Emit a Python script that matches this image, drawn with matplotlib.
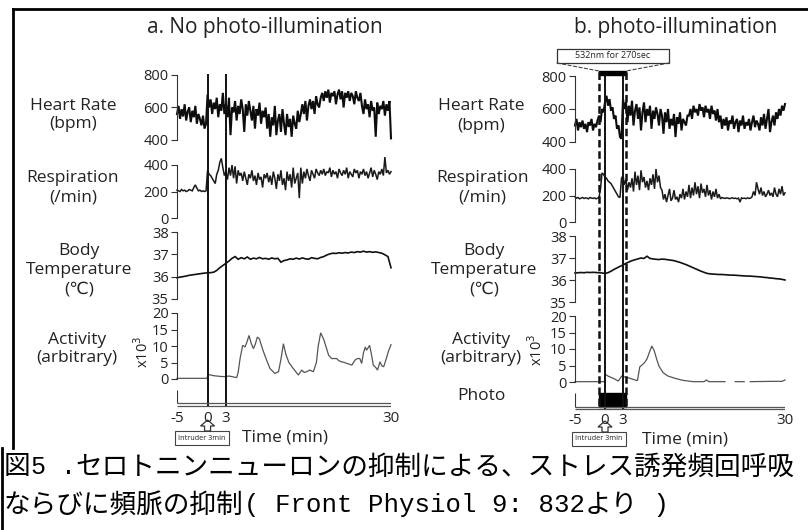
import numpy as np
import matplotlib
matplotlib.use("Agg")
import matplotlib.pyplot as plt
from matplotlib.patches import Rectangle, Polygon, ConnectionPatch

# ---------------- data ----------------
t_range = [-5, 30]
xtick_vals = [-5, 0, 3, 30]
intruder_times = [0, 3]
photo_window = [-1, 3.5]

hr_a = [560, 610, 530, 590, 545, 620, 520, 575, 600, 510, 580, 540, 610, 500, 560, 530, 490, 550, 470, 500,
        680, 600, 650, 560, 630, 590, 660, 540, 620, 580, 690, 560,
        620, 540, 660, 430, 600, 570, 640, 520, 610, 560, 650, 590, 450, 620, 550, 640, 580, 520, 610, 470, 590, 550, 630, 500, 580, 540,
        600, 470, 560, 420, 540, 490, 610, 430, 520, 560, 450, 590, 500, 430, 560, 480, 530, 420, 550, 500, 470, 580, 510, 560,
        620, 560, 640, 520, 610, 650, 590, 640, 560, 670, 620, 600, 660,
        690, 640, 700, 660, 710, 630, 690, 670, 700, 620, 680, 710, 650, 700, 600, 690, 660, 700, 640, 690, 670, 620, 700, 660, 640, 690,
        610, 560, 650, 590, 620, 540, 640, 580, 600, 420, 630, 560, 610, 590, 640, 550, 620, 580, 640, 410]

resp_a = [210, 205, 200, 215, 205, 210, 200, 205, 215, 210, 205, 230, 250, 225, 205, 210, 200, 205, 200, 205,
          360, 330, 320, 300, 280, 260, 330, 360, 420, 450, 380, 320,
          350, 290, 380, 320, 400, 300, 390, 260, 360, 320, 340, 280, 350, 300, 250, 330, 300, 360, 280, 320, 250, 340, 290, 310, 230, 330,
          300, 340, 270, 320, 250, 350, 300, 220, 330, 280, 360, 250, 300, 210, 350, 280, 330, 230, 380, 260, 300, 340, 150, 380,
          260, 350, 300, 370, 320, 280, 360, 330, 300, 370, 340, 320, 360,
          330, 370, 320, 350, 340, 380, 310, 360, 330, 350, 300, 370, 340, 320, 360, 330, 380, 300, 350, 330, 310, 370, 340, 360, 300, 350,
          330, 370, 320, 350, 300, 340, 380, 310, 360, 330, 290, 350, 330, 370, 320, 460, 340, 360, 330, 350]

temp_a = [35.95, 35.98, 36.0, 36.03, 36.06, 36.08, 36.1, 36.12, 36.14, 36.16,
          36.17, 36.18, 36.2, 36.28, 36.4, 36.5,
          36.6, 36.7, 36.82, 36.9, 36.78, 36.85, 36.8, 36.88, 36.78, 36.83, 36.8, 36.86, 36.8, 36.82,
          36.78, 36.84, 36.8, 36.82, 36.65, 36.72, 36.75, 36.8, 36.78, 36.83, 36.79, 36.84,
          36.8, 36.78, 36.85, 36.82, 36.8, 36.86, 36.9, 36.97, 37.02, 37.05, 37.04, 37.07,
          37.05, 37.08, 37.06, 37.1, 37.08, 37.12, 37.1, 37.14, 37.1, 37.12, 37.09, 37.11,
          37.08, 37.05, 36.98, 36.9, 36.4]

act_a_t = [-5, -0.05, 0.05, 1, 2, 2.85, 3.5, 4.3, 4.76, 5.0, 5.3, 5.74, 6.12, 6.4, 6.78, 7.1, 7.49, 7.8, 8.14, 8.47,
           9.0, 9.6, 10.2, 11.0, 11.6, 12.0, 12.4, 12.8, 13.3, 13.8, 14.3, 14.85, 15.4, 15.8, 16.2, 16.7, 17.3, 17.8,
           18.1, 18.5, 19.0, 19.8, 20.3, 21.1, 21.5, 21.9, 22.4, 22.8, 23.2, 23.6, 24.1, 24.5, 24.9, 25.2, 25.5, 25.8,
           26.0, 26.5, 26.8, 27.1, 27.5, 27.8, 28.2, 28.5, 28.8, 29.2, 29.6, 30.0]
act_a_v = [0.2, 0.2, 1.4, 1.0, 0.8, 0.7, 0.9, 0.6, 0.4, 2.0, 6.0, 10.2, 9.7, 11.0, 13.2, 11.0, 9.2, 10.5, 12.7, 12.2,
           9.0, 6.0, 3.2, 1.7, 2.2, 6.0, 10.7, 7.5, 5.0, 3.7, 2.5, 1.2, 2.7, 2.0, 2.2, 2.7, 2.2, 5.0,
           10.0, 14.0, 12.0, 7.2, 6.2, 6.2, 5.5, 5.2, 5.0, 4.7, 4.5, 4.2, 5.7, 6.2, 6.2, 4.7, 8.0, 9.7,
           8.7, 10.2, 7.5, 4.2, 3.5, 2.7, 5.2, 4.0, 3.7, 6.0, 8.5, 10.4]

hr_b = [500, 540, 470, 520, 490, 530, 480, 510, 460, 520, 500, 540, 470, 510, 490, 530,
        560, 520, 600, 580,
        640, 680, 620, 660, 590, 610, 540, 560, 480, 500, 430, 420,
        660, 600, 640, 520, 620, 560, 650, 500, 590, 630, 540, 610, 470, 580, 640, 520, 600, 560, 620, 480, 590, 540, 610, 570, 500, 600,
        560, 450, 580, 520, 600, 480, 540, 500, 570, 430, 550, 510, 580, 470, 540, 520, 500, 560,
        560, 600, 540, 620, 580, 600, 560, 630, 590, 610, 550, 620, 580, 600, 540, 620, 570, 590, 530, 600,
        520, 560, 480, 540, 500, 550, 470, 530, 510, 560, 480, 520, 540, 460, 530, 500, 560, 480, 520, 500, 540, 470, 520, 560,
        490, 530, 510, 470, 550, 500, 570, 480, 540, 600, 460, 520,
        560, 500, 580, 540, 600, 560, 620, 590, 630]

resp_b = [190, 180, 185, 175, 180, 185, 178, 182, 180, 175, 185, 180, 178, 182, 175, 180,
          185, 250, 370, 360,
          340, 330, 310, 300, 290, 270, 250, 230, 210, 190, 185, 330,
          350, 280, 320, 240, 300, 260, 330, 230, 380, 280, 350, 240, 390, 300, 340, 260, 310, 240, 330, 280, 360, 250, 400, 300, 350, 260,
          240, 170, 210, 150, 200, 250, 160, 180, 240, 170, 190, 150, 210, 180,
          250, 170, 230, 190, 280, 180, 260, 200, 300, 210, 270, 180, 290, 220, 250, 190, 280, 200, 240, 170, 230, 190, 250, 180, 210, 175,
          185, 180, 178, 182, 180, 176, 180, 182, 178, 180, 175, 180, 150, 182, 178, 180, 176, 182, 178, 180,
          190, 230, 200, 300, 250, 210, 260, 200, 230, 190, 210, 240, 200, 220, 190, 260, 210, 190, 250, 210, 270, 200, 220]

temp_b = [36.32, 36.33, 36.34, 36.33, 36.35, 36.34, 36.35, 36.34, 36.33, 36.32,
          36.3, 36.33, 36.4, 36.48, 36.55, 36.62,
          36.68, 36.76, 36.82, 36.88, 36.92, 36.96, 37.0, 36.98, 37.08, 36.98,
          36.96, 36.94, 36.93, 36.95, 36.94, 36.92, 36.9, 36.88, 36.84, 36.8,
          36.75, 36.7, 36.64, 36.58, 36.52, 36.46, 36.4, 36.35, 36.3, 36.28,
          36.27, 36.26, 36.25, 36.25, 36.24, 36.23, 36.22, 36.22, 36.21, 36.2,
          36.19, 36.18, 36.18, 36.17, 36.16, 36.15, 36.14, 36.12, 36.11, 36.09,
          36.08, 36.06, 36.05, 36.03, 36.0]

act_b_t = [-5, -0.1, 0.05, 0.5, 1.0, 1.5, 2.2, 2.8, 3.3, 4.0, 4.7, 5.4, 5.8, 6.2, 6.6, 7.0, 7.4, 7.8, 8.2, 8.6,
           9.0, 9.7, 10.5, 11.9, 13.0, 14.7, 16.5, 16.9, 17.3, 20.0, 20.3, 21.7, 23.2, 23.4, 24.2, 26.0, 28.0, 29.5, 30.0]
act_b_v = [0.1, 0.1, 2.3, 1.8, 1.4, 1.0, 0.3, 1.8, 1.5, 1.2, 0.8, 0.4, 4.6, 5.2, 5.9, 7.0, 9.0, 10.9, 9.5, 7.0,
           4.8, 2.8, 1.8, 1.0, 0.5, 0.1, 0.1, 0.6, 0.1, 0.1, np.nan, 0.1, 0.1, np.nan, 0.1, 0.15, 0.2, 0.2, 0.6]

row_labels = ["Heart Rate\n(bpm)", "Respiration\n(/min)", "Body\nTemperature\n(\u2103)", "Activity\n(arbitrary)"]
ylims = [(400, 800), (0, 400), (35, 38), (0, 20)]
yticks = [[400, 600, 800], [0, 200, 400], [35, 36, 37, 38], [0, 5, 10, 15, 20]]
titles = ["a. No photo-illumination", "b. photo-illumination"]
caption1 = ["図", "5 .", "セロトニンニューロンの抑制による、ストレス誘発頻回呼吸"]
caption2 = ["ならびに頻脈の抑制", "( Front Physiol 9: 832", "より", " )"]

# ---------------- layout ----------------
W, H = 808, 530
fig = plt.figure(figsize=(W / 100, H / 100), dpi=100)
FONT = ["Open Sans", "DejaVu Sans"]
CJK = ["Noto Sans CJK JP", "DejaVu Sans"]
MONO = "Liberation Mono"
TXT = "#222222"

pix = fig.add_axes([0, 0, 1, 1])
pix.set_xlim(0, W)
pix.set_ylim(H, 0)
pix.axis("off")


def add_ax(x0, y_top, x1, y_bot):
    return fig.add_axes([x0 / W, 1 - y_bot / H, (x1 - x0) / W, (y_bot - y_top) / H])


panels = [
    dict(x0=177, x1=391, rows=[(75, 140), (165, 218), (232, 299), (313, 379)], lab_x=[73, 73, 79, 77],
         lab_y=[115, 188, 270, 349], axis_y=(403.0, 405.5), spine=(390, 403), tick_y=418,
         title_x=265, xlab=(143, 352), time_xy=(285, 437), vtop=74),
    dict(x0=575, x1=785, rows=[(76, 142), (169, 222), (236, 302), (316, 382)], lab_x=[481, 482, 484, 481],
         lab_y=[116, 188, 270, 349], axis_y=(406.5, 409.0), spine=(393, 407), tick_y=421,
         title_x=676, xlab=(537, 350), time_xy=(685, 440), vtop=75),
]
series = [
    [(np.linspace(t_range[0], t_range[1], len(hr_a)), hr_a),
     (np.linspace(t_range[0], t_range[1], len(resp_a)), resp_a),
     (np.linspace(t_range[0], t_range[1], len(temp_a)), temp_a),
     (act_a_t, act_a_v)],
    [(np.linspace(t_range[0], t_range[1], len(hr_b)), hr_b),
     (np.linspace(t_range[0], t_range[1], len(resp_b)), resp_b),
     (np.linspace(t_range[0], t_range[1], len(temp_b)), temp_b),
     (act_b_t, act_b_v)],
]
line_styles = [dict(color="#0d0d0d", lw=1.5), dict(color="#1a1a1a", lw=1.1),
               dict(color="#111111", lw=1.2), dict(color="#555555", lw=0.9)]

overlays = []
for pi, (p, ser) in enumerate(zip(panels, series)):
    for ri, ((yt, yb), (tt, vv)) in enumerate(zip(p["rows"], ser)):
        ax = add_ax(p["x0"], yt, p["x1"], yb)
        ax.plot(tt, vv, clip_on=False, solid_joinstyle="miter", **line_styles[ri])
        ax.set_xlim(*t_range)
        ax.set_ylim(*ylims[ri])
        ax.set_yticks(yticks[ri])
        ax.set_xticks([])
        ax.patch.set_alpha(0)
        for s in ["top", "right", "bottom"]:
            ax.spines[s].set_visible(False)
        ax.spines["left"].set_color("#333333")
        ax.spines["left"].set_linewidth(0.8)
        ax.tick_params(axis="y", direction="out", length=4, width=0.8, colors="#333333",
                       labelsize=10.5, pad=2)
        for lab in ax.get_yticklabels():
            lab.set_fontfamily(FONT)
            lab.set_color(TXT)
        pix.text(p["lab_x"][ri], p["lab_y"][ri], row_labels[ri], ha="center", va="center",
                 fontsize=12.5, family=FONT, color=TXT, linespacing=1.25)

    # overlay axes: x in minutes, y in pixels
    ov = fig.add_axes([p["x0"] / W, 0, (p["x1"] - p["x0"]) / W, 1])
    ov.set_xlim(*t_range)
    ov.set_ylim(H, 0)
    ov.axis("off")
    ov.patch.set_alpha(0)
    overlays.append(ov)
    ybot = p["axis_y"][1] + 1
    ov.vlines(intruder_times, p["vtop"], ybot, color="#111111", lw=1.4)
    ov.hlines(p["axis_y"], t_range[0], t_range[1], color="#555555", lw=0.9)
    ov.vlines(t_range[0], p["spine"][0], p["spine"][1], color="#333333", lw=0.8)
    for tv in xtick_vals:
        ov.text(tv, p["tick_y"], str(tv), ha="center", va="center", fontsize=11, family=FONT, color=TXT)
    pix.text(p["time_xy"][0], p["time_xy"][1], "Time (min)", ha="center", va="center",
             fontsize=12.5, family=FONT, color=TXT)
    pix.text(p["title_x"], 28, titles[pi], ha="center", va="center", fontsize=15, family=FONT, color=TXT)
    pix.text(p["xlab"][0], p["xlab"][1], r"x10$^3$", rotation=90, ha="center", va="center",
             fontsize=10.5, family=FONT, color=TXT)

    # intruder box + hollow up arrow
    x0px = ov.transData.transform((intruder_times[0], 0))[0]
    ybox = 431 if pi == 0 else 432
    pix.add_patch(Rectangle((x0px - 33, ybox), 54, 14, fill=False, ec="#444444", lw=0.8))
    pix.text(x0px - 6, ybox + 7, "Intruder 3min", ha="center", va="center", fontsize=5.2, family=FONT, color=TXT)
    arr = [(x0px - 3, ybox), (x0px - 3, ybox - 5), (x0px - 7, ybox - 5), (x0px, ybox - 11),
           (x0px + 7, ybox - 5), (x0px + 3, ybox - 5), (x0px + 3, ybox)]
    pix.add_patch(Polygon(arr, closed=True, fc="white", ec="#333333", lw=0.9))

# photo-illumination decorations on panel b
ovb = overlays[1]
ovb.vlines(photo_window, 72, 408, color="#111111", lw=1.8, linestyles=(0, (3, 1.5)))
ovb.add_patch(Rectangle((photo_window[0], 71), photo_window[1] - photo_window[0], 4, fc="black", ec="black",
                        clip_on=False))
ovb.add_patch(Rectangle((photo_window[0], 393), photo_window[1] - photo_window[0], 14, fc="black", ec="black",
                        clip_on=False))
pix.text(481, 396, "Photo", ha="center", va="center", fontsize=12.5, family=FONT, color=TXT)
pix.add_patch(Rectangle((557, 49), 112, 14, fill=False, ec="#333333", lw=0.9))
pix.text(613, 56, "532nm for 270sec", ha="center", va="center", fontsize=6.5, family=FONT, color=TXT)
for xa, tb in [(557, photo_window[0]), (669, photo_window[1])]:
    con = ConnectionPatch(xyA=(xa, 63), coordsA=pix.transData, xyB=(tb, 71), coordsB=ovb.transData,
                          color="#444444", lw=0.8, linestyle=(0, (3, 2)))
    fig.add_artist(con)

# frame lines
pix.plot([13, 13], [9, 448], color="black", lw=2, clip_on=False)
pix.plot([13, 808], [9, 9], color="black", lw=2, clip_on=False)
pix.plot([2, 2], [448, 530], color="black", lw=2, clip_on=False)

# caption
renderer = fig.canvas.get_renderer()


def seq_text(x, y, pieces):
    for s, fam, sz in pieces:
        t = fig.text(x / W, 1 - y / H, s, fontsize=sz, family=fam, va="center", ha="left", color="black")
        bb = t.get_window_extent(renderer=renderer)
        x += bb.width


seq_text(4, 467, [(caption1[0], CJK, 19.2), (caption1[1], MONO, 18), (caption1[2], CJK, 19.2)])
seq_text(4, 505, [(caption2[0], CJK, 19.2), (caption2[1], MONO, 18.5), (caption2[2], CJK, 19.2), (caption2[3], MONO, 18.5)])

fig.savefig("out.png", dpi=100)
